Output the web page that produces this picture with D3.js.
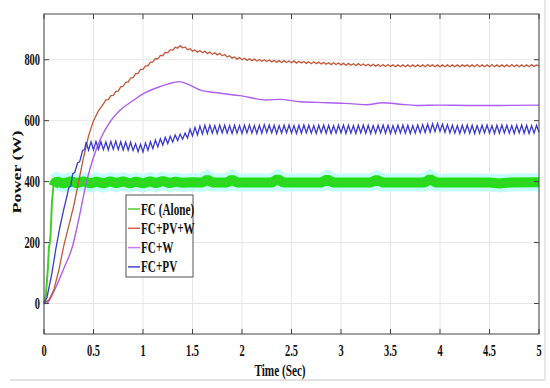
<!DOCTYPE html>
<html>
<head>
<meta charset="utf-8">
<script src="https://cdn.jsdelivr.net/npm/d3@7"></script>
<style>
  body { margin: 0; background: #fff; }
  text { font-family: "Liberation Serif", "Times New Roman", serif; font-weight: bold; fill: #111; }
</style>
</head>
<body>
<div id="chart"></div>
<script>
// axis ticks
const xTicks = [0, 0.5, 1, 1.5, 2, 2.5, 3, 3.5, 4, 4.5, 5];
const yTicks = [0, 200, 400, 600, 800];
const xTickLabels = ['0', '0.5', '1', '1.5', '2', '2.5', '3', '3.5', '4', '4.5', '5'];

const seriesNames = ['FC (Alone)', 'FC+PV+W', 'FC+W', 'FC+PV'];

// FC (Alone) - thick green band
const fcTime = [0, 0.02, 0.04, 0.05, 0.055, 0.065, 0.08, 0.095, 0.11, 0.13, 0.2, 0.27, 0.33, 0.4, 0.47, 0.53, 0.6, 0.67, 0.73, 0.8, 0.87, 0.93, 1.0, 1.07, 1.13, 1.2, 1.27, 1.33, 1.4, 1.5, 1.6, 1.65, 1.7, 1.85, 1.9, 1.95, 2.3, 2.36, 2.42, 2.8, 2.86, 2.92, 3.3, 3.36, 3.42, 3.84, 3.9, 3.96, 4.5, 4.6, 4.7, 5];
const fcPower = [0, 30, 120, 185, 192, 215, 330, 385, 396, 400, 394, 401, 395, 401, 394, 400, 394, 401, 395, 401, 394, 400, 394, 401, 395, 402, 395, 400, 396, 398, 397, 407, 397, 397, 407, 397, 397, 408, 397, 397, 407, 397, 397, 406, 397, 397, 408, 397, 397, 394, 397, 398];

// FC+PV+W - ramp then rippled samples every 0.025 s from 0.625 s
const pvwRampTime = [0, 0.05, 0.1, 0.15, 0.2, 0.25, 0.3, 0.35, 0.4, 0.45, 0.5, 0.55, 0.6];
const pvwRampPower = [0, 12, 45, 110, 190, 255, 320, 400, 480, 550, 600, 632, 655];
const pvwRippleStart = 0.625;
const pvwRipple = [
  668,669,682,683,696,697,711,713,726,727,740,741,754,755,768,768,780,780,792,792,
  804,803,814,813,824,823,833,831,841,838,846,839,842,833,836,828,832,825,830,823,
  828,820,825,818,823,816,821,813,817,809,813,805,809,802,807,800,805,798,803,797,
  802,796,801,795,800,794,799,793,798,792,797,791,797,791,796,790,796,789,795,789,
  794,788,793,787,793,787,792,786,791,785,790,784,790,784,789,783,788,782,788,782,
  787,781,787,781,786,780,785,779,785,779,784,778,784,778,784,778,783,777,783,777,
  783,777,783,777,783,777,783,777,783,777,784,778,783,777,783,777,783,777,783,777,
  783,777,783,777,783,778,783,777,783,777,784,777,783,777,783,777,784,777,783,777,
  783,777,783,777,784,777,783,777,783,777,783,777,784,778,783,779
];

// FC+W - smooth
const wTime = [0, 0.03, 0.1, 0.2, 0.29, 0.35, 0.43, 0.5, 0.57, 0.67, 0.77, 0.9, 1.0, 1.14, 1.25, 1.37, 1.45, 1.58, 1.78, 1.98, 2.25, 2.38, 2.59, 2.86, 3.0, 3.09, 3.26, 3.42, 3.6, 3.77, 4.0, 4.3, 4.6, 5];
const wPower = [0, 2, 40, 115, 190, 275, 400, 480, 540, 598, 635, 666, 688, 708, 720, 728, 720, 700, 690, 682, 668, 670, 662, 659, 657, 656, 652, 659, 654, 650, 651, 650, 650, 651];

// FC+PV - stepped ramp then rippled samples every 0.025 s from 0.425 s
const pvRampTime = [0, 0.03, 0.08, 0.12, 0.16, 0.2, 0.23, 0.25, 0.27, 0.29, 0.31, 0.34, 0.36, 0.39, 0.41];
const pvRampPower = [0, 20, 100, 180, 250, 310, 350, 380, 385, 426, 430, 462, 465, 502, 505];
const pvRippleStart = 0.425;
const pvRipple = [
  530,503,531,504,532,506,531,505,530,504,532,506,533,505,531,504,530,503,529,502,
  524,498,522,497,527,503,531,508,536,514,541,520,545,525,549,530,553,535,556,539,
  559,543,572,550,578,553,582,556,585,558,585,559,584,558,586,560,585,559,584,558,
  585,559,584,558,585,560,586,559,584,558,585,559,587,561,586,560,585,558,584,559,
  585,560,586,559,584,558,585,559,586,560,585,559,584,558,585,560,586,559,585,558,
  584,559,585,560,586,558,585,559,584,558,585,560,586,559,585,558,584,559,585,560,
  586,559,585,558,584,559,585,560,586,559,585,558,584,559,586,560,587,561,588,562,
  590,564,591,565,589,562,587,560,585,559,584,558,585,560,586,559,585,558,584,559,
  585,560,586,559,584,558,585,559,586,560,585,559,584,558,585,560,586,559,585,558,
  584,559,585,562
];

const step = 0.025;

const W = 550, H = 388;
const svg = d3.select('#chart').append('svg')
    .attr('width', W)
    .attr('height', H);

const x = d3.scaleLinear().domain([0, 5]).range([44, 539]);
const y = d3.scaleLinear().domain([-100, 950]).range([334, 14]);

// figure frame lines (light gray)
svg.append('line').attr('x1', 10).attr('x2', 545).attr('y1', 380).attr('y2', 380)
    .attr('stroke', '#e2e2e2').attr('stroke-width', 2);
svg.append('line').attr('x1', 545).attr('x2', 545).attr('y1', 0).attr('y2', 380)
    .attr('stroke', '#e8e8e8').attr('stroke-width', 2);

// grid
svg.append('g').selectAll('line').data(xTicks).enter().append('line')
    .attr('x1', d => x(d)).attr('x2', d => x(d))
    .attr('y1', y.range()[1]).attr('y2', y.range()[0])
    .attr('stroke', '#e6e6e6');
svg.append('g').selectAll('line').data(yTicks).enter().append('line')
    .attr('x1', x.range()[0]).attr('x2', x.range()[1])
    .attr('y1', d => y(d)).attr('y2', d => y(d))
    .attr('stroke', '#e6e6e6');

// build point lists
const zip = (ts, ps) => ts.map((t, i) => ({t: t, p: ps[i]}));
const fcPts = zip(fcTime, fcPower);
const pvwPts = zip(pvwRampTime, pvwRampPower)
    .concat(pvwRipple.map((p, i) => ({t: pvwRippleStart + i * step, p: p})));
const wPts = zip(wTime, wPower);
const pvPts = zip(pvRampTime, pvRampPower)
    .concat(pvRipple.map((p, i) => ({t: pvRippleStart + i * step, p: p})));

const line = d3.line().x(d => x(d.t)).y(d => y(d.p));

const plot = svg.append('g');

// cyan halo and thick green band on the plateau
const plateau = fcPts.filter(d => d.t >= 0.11);
plot.append('path').datum(plateau).attr('d', line)
    .attr('fill', 'none').attr('stroke', '#c4fbfb').attr('stroke-width', 18);
plot.append('path').datum(fcPts.filter(d => d.t >= 0.095)).attr('d', line)
    .attr('fill', 'none').attr('stroke', '#22dd18').attr('stroke-width', 10)
    .attr('stroke-linejoin', 'bevel');
plot.append('path').datum(fcPts).attr('d', line)
    .attr('fill', 'none').attr('stroke', '#3fcf2a').attr('stroke-width', 2);

plot.append('path').datum(wPts).attr('d', line.curve(d3.curveMonotoneX))
    .attr('fill', 'none').attr('stroke', '#ad5ef0').attr('stroke-width', 1.4);
line.curve(d3.curveLinear);
plot.append('path').datum(pvwPts).attr('d', line)
    .attr('fill', 'none').attr('stroke', '#c4573a').attr('stroke-width', 1.3);
plot.append('path').datum(pvPts).attr('d', line)
    .attr('fill', 'none').attr('stroke', '#3a3acc').attr('stroke-width', 1.3);

// axes box with inward ticks
const x0 = x.range()[0], x1 = x.range()[1], yb = y.range()[0], yt = y.range()[1];
svg.append('rect').attr('x', x0).attr('y', yt).attr('width', x1 - x0).attr('height', yb - yt)
    .attr('fill', 'none').attr('stroke', '#444').attr('stroke-width', 1);
const tk = svg.append('g').attr('stroke', '#444');
xTicks.forEach(t => {
    tk.append('line').attr('x1', x(t)).attr('x2', x(t)).attr('y1', yb).attr('y2', yb - 5);
    tk.append('line').attr('x1', x(t)).attr('x2', x(t)).attr('y1', yt).attr('y2', yt + 5);
});
yTicks.forEach(v => {
    tk.append('line').attr('x1', x0).attr('x2', x0 + 5).attr('y1', y(v)).attr('y2', y(v));
    tk.append('line').attr('x1', x1).attr('x2', x1 - 5).attr('y1', y(v)).attr('y2', y(v));
});

// tick labels (condensed bold serif)
const tickSq = 0.65;
svg.append('g').selectAll('text').data(xTicks).enter().append('text')
    .attr('transform', d => `translate(${x(d)},356) scale(${tickSq},1)`)
    .attr('text-anchor', 'middle').attr('font-size', 16)
    .text((d, i) => xTickLabels[i]);
svg.append('g').selectAll('text').data(yTicks).enter().append('text')
    .attr('transform', d => `translate(40,${y(d) + 5}) scale(${tickSq},1)`)
    .attr('text-anchor', 'end').attr('font-size', 16)
    .text(d => d);

// axis titles
svg.append('text')
    .attr('transform', `translate(280,376) scale(0.66,1)`)
    .attr('text-anchor', 'middle').attr('font-size', 17)
    .text('Time (Sec)');
svg.append('text')
    .attr('transform', `translate(21,172) scale(0.7,1) rotate(-90)`)
    .attr('text-anchor', 'middle').attr('font-size', 18)
    .text('Power (W)');

// legend
const legColors = ['#55cc33', '#cc6644', '#cc77ee', '#4444cc'];
const leg = svg.append('g');
leg.append('rect').attr('x', 126).attr('y', 195).attr('width', 67).attr('height', 82)
    .attr('fill', '#fff').attr('stroke', '#555').attr('stroke-width', 1);
seriesNames.forEach((name, i) => {
    const cy = 209 + i * 19.3;
    leg.append('line').attr('x1', 128).attr('x2', 140).attr('y1', cy).attr('y2', cy)
        .attr('stroke', legColors[i]).attr('stroke-width', 1.5);
    leg.append('text')
        .attr('transform', `translate(141,${cy + 5.5}) scale(0.7,1)`)
        .attr('font-size', 16)
        .text(name);
});
</script>
</body>
</html>
